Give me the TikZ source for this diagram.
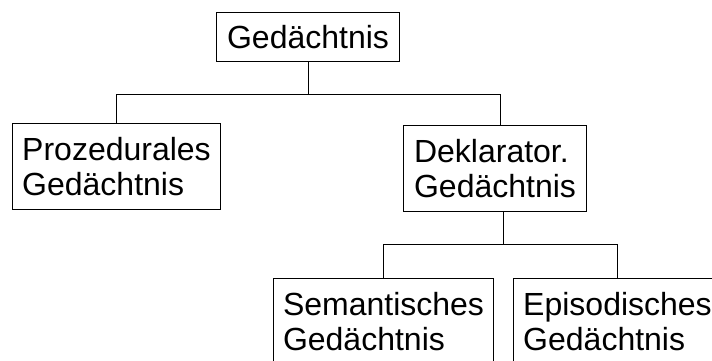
\documentclass[tikz,border=0pt]{standalone}
\usepackage{fontspec}
\setmainfont{Liberation Sans}
\begin{document}
\begin{tikzpicture}[x=1pt,y=-1pt,
  box/.style={draw, line width=1pt, anchor=north west, align=left,
    font=\fontsize{32}{34.5}\selectfont, inner sep=0pt},
  conn/.style={draw, line width=1pt}]
\useasboundingbox (0,0) rectangle (712,360);
\clip (0,0) rectangle (712,360);
\node[box, minimum width=183pt, minimum height=49pt] (top) at (216,12) {Gedächtnis};
\node[box, minimum width=208pt, minimum height=86pt] (proz) at (12,123) {Prozedurales\\Gedächtnis};
\node[box, minimum width=183pt, minimum height=86pt] (dek) at (403,125) {Deklarator.\\Gedächtnis};
\node[box, minimum width=220pt, minimum height=86pt] (sem) at (273,278) {Semantisches\\Gedächtnis};
\node[box, minimum width=208pt, minimum height=86pt] (epi) at (513,278) {Episodisches\\Gedächtnis};
\draw[conn] (top.south) -- ++(0,32) -| (proz.north);
\draw[conn] (top.south) -- ++(0,32) -| ([xshift=5.5pt]dek.north);
\draw[conn] ([xshift=8pt]dek.south) -- ++(0,32) -| (sem.north);
\draw[conn] ([xshift=8pt]dek.south) -- ++(0,32) -| (epi.north);
\end{tikzpicture}
\end{document}
